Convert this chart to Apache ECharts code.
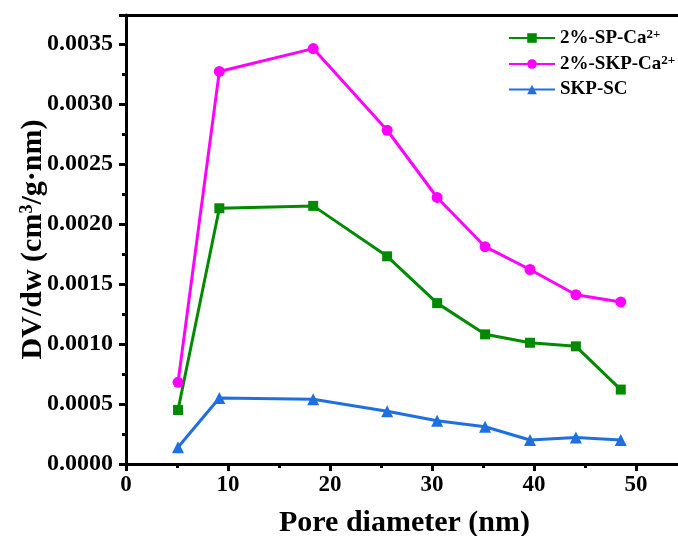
<!DOCTYPE html>
<html>
<head>
<meta charset="utf-8">
<script src="https://cdn.jsdelivr.net/npm/echarts@6/dist/echarts.min.js"></script>
<style>
  html, body { margin: 0; padding: 0; background: #fff; }
  #chart { width: 678px; height: 536px; }
</style>
</head>
<body>
<div id="chart"></div>
<script>
  // pore diameter (nm)
  var poreSize = [5.1, 9.15, 18.35, 25.6, 30.5, 35.2, 39.6, 44.1, 48.5];
  var spCa = [0.00045, 0.00213, 0.00215, 0.00173, 0.00134, 0.00108, 0.00101, 0.00098, 0.00062];
  var skpCa = [0.00068, 0.00327, 0.00346, 0.00278, 0.00222, 0.00181, 0.00162, 0.00141, 0.00135];
  var skpSc = [0.00014, 0.00055, 0.00054, 0.00044, 0.00036, 0.00031, 0.00020, 0.00022, 0.00020];
  var seriesNames = ["2%-SP-Ca", "2%-SKP-Ca", "SKP-SC"];

  function pairs(ys) {
    return poreSize.map(function (x, i) { return [x, ys[i]]; });
  }

  var font = "'Liberation Serif', 'Times New Roman', serif";
  var chart = echarts.init(document.getElementById("chart"));

  var option = {
    animation: false,
    color: ["#008a00", "#ff00ff", "#1f6fe0"],
    grid: { left: 126, top: 15, right: -5, bottom: 72, containLabel: false, outerBoundsMode: "none" },
    legend: {
      orient: "vertical",
      left: 503,
      top: 23,
      itemWidth: 46,
      itemHeight: 12,
      itemGap: 3,
      data: seriesNames,
      formatter: function (name) {
        if (name === "SKP-SC") return "{b|SKP-SC}";
        return "{b|" + name + "}{s|2+}";
      },
      textStyle: {
        fontFamily: font,
        fontWeight: "bold",
        color: "#000",
        rich: {
          b: { fontFamily: font, fontWeight: "bold", fontSize: 19, color: "#000", lineHeight: 20 },
          s: { fontFamily: font, fontWeight: "bold", fontSize: 13, color: "#000", verticalAlign: "top", padding: [0, 0, 10, 0], lineHeight: 20 }
        }
      }
    },
    xAxis: [{
      type: "value",
      min: 0,
      max: 54.6,
      interval: 10,
      name: "Pore diameter (nm)",
      nameLocation: "middle",
      nameGap: 44,
      nameMoveOverlap: false,
      nameTextStyle: { fontFamily: font, fontWeight: "bold", fontSize: 30, color: "#000" },
      axisLine: { lineStyle: { color: "#000", width: 3 } },
      axisTick: { inside: false, length: 7, lineStyle: { color: "#000", width: 3 } },
      minorTick: { show: true, splitNumber: 2, length: 4, lineStyle: { color: "#000", width: 3 } },
      splitLine: { show: false },
      axisLabel: { fontFamily: font, fontWeight: "bold", fontSize: 23, color: "#000", margin: 10, showMaxLabel: false }
    }, {
      type: "value",
      position: "top",
      min: 0,
      max: 54.6,
      axisLine: { show: true, lineStyle: { color: "#000", width: 3 } },
      axisTick: { show: false },
      axisLabel: { show: false },
      splitLine: { show: false }
    }],
    yAxis: {
      type: "value",
      min: 0,
      max: 0.00374,
      interval: 0.0005,
      name: "DV/dw (cm{s|3}/g·nm)",
      nameLocation: "middle",
      nameGap: 78,
      nameMoveOverlap: false,
      nameTextStyle: {
        fontFamily: font, fontWeight: "bold", fontSize: 30, color: "#000",
        rich: {
          s: { fontFamily: font, fontWeight: "bold", fontSize: 18, color: "#000", verticalAlign: "top", padding: [0, 0, 12, 0] }
        }
      },
      axisLine: { show: true, lineStyle: { color: "#000", width: 3 } },
      axisTick: { inside: false, length: 7, lineStyle: { color: "#000", width: 3 } },
      minorTick: { show: true, splitNumber: 2, length: 4, lineStyle: { color: "#000", width: 3 } },
      splitLine: { show: false },
      axisLabel: {
        fontFamily: font, fontWeight: "bold", fontSize: 24, color: "#000", margin: 13,
        showMaxLabel: false,
        formatter: function (v) {
          var k = v / 0.0005;
          if (Math.abs(k - Math.round(k)) > 1e-6) return "";
          return v.toFixed(4);
        }
      }
    },
    series: [
      {
        name: seriesNames[0], type: "line", data: pairs(spCa),
        symbol: "rect", symbolSize: 10, lineStyle: { width: 3 }
      },
      {
        name: seriesNames[1], type: "line", data: pairs(skpCa),
        symbol: "circle", symbolSize: 11, lineStyle: { width: 3 }
      },
      {
        name: seriesNames[2], type: "line", data: pairs(skpSc),
        symbol: "triangle", symbolSize: 12, lineStyle: { width: 3 }
      }
    ]
  };

  chart.setOption(option);
</script>
</body>
</html>
